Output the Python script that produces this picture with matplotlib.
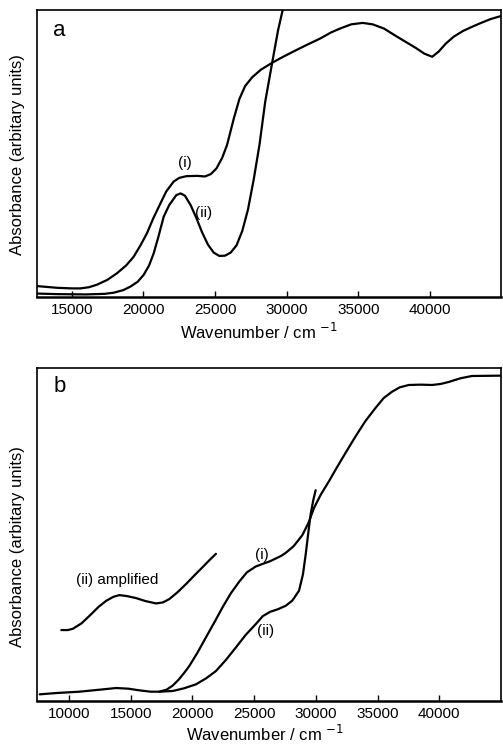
import matplotlib
matplotlib.use("Agg")
import matplotlib.pyplot as plt

plt.rcParams['font.family'] = ['Liberation Sans', 'DejaVu Sans']

# ---------------- Panel a data ----------------
a_x_i = [12580, 14000, 15000, 15600, 16200, 16770, 17500, 18165, 18800, 19320,
         19800, 20250, 20700, 21190, 21600, 22110, 22500, 23000, 23750, 24300,
         24700, 25100, 25500, 25840, 26300, 26700, 27100, 27600, 28200, 28980,
         29600, 30260, 31300, 32350, 33100, 33750, 34500, 35300, 36000, 36800,
         37600, 38400, 39000, 39600, 40150, 40600, 41100, 41650, 42300, 43000,
         43510, 44200, 44950]
a_y_i = [3.8, 3.2, 3.0, 3.0, 3.4, 4.3, 6.0, 8.3, 11.0, 14.0,
         18.0, 22.2, 27.5, 32.6, 36.8, 40.2, 41.5, 42.1, 42.2, 42.0,
         42.8, 44.8, 48.5, 53.0, 62.0, 69.0, 73.5, 76.6, 79.2, 81.6,
         83.3, 85.0, 87.6, 90.1, 92.2, 93.6, 95.0, 95.5, 95.0, 93.5,
         91.0, 88.6, 86.8, 84.8, 83.7, 85.5, 88.3, 90.7, 92.7, 94.3,
         95.4, 96.8, 97.9]

a_x_ii = [12580, 14000, 16000, 17300, 17930, 18600, 19090, 19600, 20020, 20400,
          20720, 21050, 21420, 21800, 22300, 22600, 22900, 23300, 23700, 24100,
          24500, 24900, 25300, 25700, 26100, 26500, 26900, 27300, 27700, 28100,
          28500, 29000, 29400, 29720, 30000]
a_y_ii = [1.2, 1.0, 0.9, 1.1, 1.5, 2.4, 3.6, 5.3, 7.7, 11.0,
          15.2, 21.0, 28.0, 32.0, 35.5, 36.1, 35.3, 32.0, 27.5, 22.5,
          18.3, 15.5, 14.3, 14.4, 15.5, 18.0, 23.0, 30.5, 41.0, 53.0,
          68.0, 82.0, 93.0, 100.0, 104.0]

a_xticks = [15000, 20000, 25000, 30000, 35000, 40000]

# ---------------- Panel b data ----------------
b_x_i = [7620, 9000, 10850, 12500, 13800, 14800, 15700, 16600, 17320, 17900,
         18390, 18900, 19400, 19740, 20400, 21090, 21800, 22430, 23100, 23780,
         24400, 25130, 25700, 26300, 26750, 27200, 27560, 28200, 28900, 29400,
         29850, 30400, 31060, 31600, 32400, 33220, 34000, 34830, 35500, 36180,
         36800, 37530, 38500, 39410, 40100, 40760, 41700, 42640, 44940]
b_y_i = [2.0, 2.4, 2.8, 3.4, 3.9, 3.7, 3.2, 2.8, 2.8, 3.4,
         4.6, 6.5, 8.8, 10.5, 14.5, 19.1, 23.8, 28.1, 32.3, 35.8,
         38.6, 40.4, 41.2, 42.0, 42.8, 43.6, 44.5, 46.5, 49.8, 53.5,
         58.0, 62.0, 66.0, 69.5, 74.5, 79.5, 84.0, 88.0, 91.0, 92.9,
         94.2, 94.9, 95.0, 94.9, 95.2, 95.8, 96.9, 97.6, 97.7]

b_x_ii = [17320, 18390, 19300, 20280, 21100, 21900, 22700, 23520, 24300, 25130,
          25700, 26300, 26880, 27560, 28100, 28630, 28950, 29180, 29400, 29580,
          29800, 29980]
b_y_ii = [2.8, 3.0, 3.8, 5.0, 6.8, 9.0, 12.3, 16.1, 19.8, 23.1,
          25.5, 26.8, 27.5, 28.6, 30.2, 33.1, 38.0, 44.2, 51.0, 56.2,
          60.5, 63.3]

b_x_amp = [9370, 9900, 10310, 11000, 11660, 12400, 13010, 13600, 14080, 14700,
           15430, 16200, 17050, 17600, 18120, 18800, 19470, 20150, 20820, 21400, 21900]
b_y_amp = [21.3, 21.3, 21.7, 23.3, 25.6, 28.3, 30.1, 31.3, 31.8, 31.5,
           30.9, 30.0, 29.3, 29.6, 30.6, 32.7, 35.1, 37.7, 40.2, 42.4, 44.2]

b_xticks = [10000, 15000, 20000, 25000, 30000, 35000, 40000]

W, H = 503, 744
fig = plt.figure(figsize=(W / 100, H / 100), dpi=100)


def axes_px(left, top, right, bottom):
    return fig.add_axes([left / W, 1 - bottom / H, (right - left) / W, (bottom - top) / H])


def style(ax, xlim, xticks, xlab_xy, ylab_xy):
    ax.set_xlim(*xlim)
    ax.set_ylim(0, 100)
    ax.set_xticks(xticks)
    ax.set_xticklabels([str(t) for t in xticks], fontsize=11)
    ax.set_yticks([])
    ax.tick_params(axis='x', direction='in', length=4, width=1, pad=4, top=False)
    for s in ax.spines.values():
        s.set_linewidth(1.2)
    ax.spines['bottom'].set_linewidth(1.8)
    ax.set_xlabel('Wavenumber / cm $^{-1}$', fontsize=12)
    ax.set_ylabel('Absorbance (arbitary units)', fontsize=12)
    ax.xaxis.set_label_coords(*xlab_xy)
    ax.xaxis.label.set_va('center')
    ax.yaxis.set_label_coords(*ylab_xy)
    ax.yaxis.label.set_va('center')


kw = dict(color='black', lw=1.6, solid_joinstyle='round', solid_capstyle='round')

# Panel a
axa = axes_px(37, 10, 501, 297)
axa.plot(a_x_i, a_y_i, **kw)
axa.plot(a_x_ii, a_y_ii, **kw)
style(axa, (12580, 44950), a_xticks,
      ((259 - 37) / 464, -(331.7 - 297) / 287),
      ((18 - 37) / 464, (297 - 155) / 287))
axa.text(0.035, 0.93, 'a', transform=axa.transAxes, fontsize=16, ha='left', va='center')
axa.text(22930, 46.7, '(i)', fontsize=11, ha='center', va='center')
axa.text(24190, 29.3, '(ii)', fontsize=11, ha='center', va='center')

# Panel b
axb = axes_px(37, 368, 501, 701)
axb.plot(b_x_i, b_y_i, **kw)
axb.plot(b_x_ii, b_y_ii, **kw)
axb.plot(b_x_amp, b_y_amp, **kw)
style(axb, (7400, 45000), b_xticks,
      ((265 - 37) / 464, -(734 - 701) / 333),
      ((18 - 37) / 464, (701 - 547) / 333))
axb.text(0.035, 0.944, 'b', transform=axb.transAxes, fontsize=16, ha='left', va='center')
axb.text(13920, 36.3, '(ii) amplified', fontsize=11, ha='center', va='center')
axb.text(25640, 43.8, '(i)', fontsize=11, ha='center', va='center')
axb.text(25940, 20.9, '(ii)', fontsize=11, ha='center', va='center')

fig.savefig('out.png', dpi=100)
